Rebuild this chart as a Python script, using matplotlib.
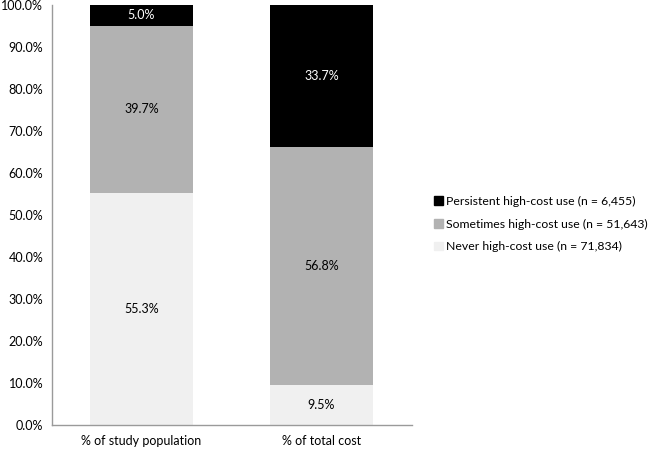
import matplotlib
matplotlib.use("Agg")
import matplotlib.pyplot as plt
from matplotlib.ticker import FuncFormatter
from matplotlib.patches import Patch

categories = ["% of study population", "% of total cost"]
never = [55.3, 9.5]
sometimes = [39.7, 56.8]
persistent = [5.0, 33.7]
series_names = ["Persistent high-cost use (n = 6,455)",
                "Sometimes high-cost use (n = 51,643)",
                "Never high-cost use (n = 71,834)"]
yticks = [0, 10, 20, 30, 40, 50, 60, 70, 80, 90, 100]

plt.rcParams['font.family'] = ['Lato', 'DejaVu Sans']

fig = plt.figure(figsize=(6.48, 4.49), dpi=100)
ax = fig.add_axes([51.5/648, 1-425/449, (411.5-51.5)/648, 420/449])

c_never, c_some, c_pers = "#f0f0f0", "#b2b2b2", "#000000"
x = list(range(len(categories)))
w = 0.57
ax.bar(x, never, w, color=c_never)
ax.bar(x, sometimes, w, bottom=never, color=c_some)
bot2 = [a + b for a, b in zip(never, sometimes)]
ax.bar(x, persistent, w, bottom=bot2, color=c_pers)

fs = 9
for i in x:
    ax.text(i, never[i] / 2, f"{never[i]:.1f}%", ha="center", va="center", fontsize=fs, color="black")
    ax.text(i, never[i] + sometimes[i] / 2, f"{sometimes[i]:.1f}%", ha="center", va="center", fontsize=fs, color="black")
    ax.text(i, bot2[i] + persistent[i] / 2, f"{persistent[i]:.1f}%", ha="center", va="center", fontsize=fs, color="white")

ax.set_xlim(-0.5, 1.5)
ax.set_ylim(0, 100)
ax.set_yticks(yticks)
ax.yaxis.set_major_formatter(FuncFormatter(lambda v, p: f"{v:.1f}%"))
ax.set_xticks(x)
ax.set_xticklabels(categories)
ax.tick_params(axis="both", labelsize=fs, length=0, colors="black")
ax.tick_params(axis="x", pad=7)
ax.tick_params(axis="y", pad=6)
for s in ["top", "right"]:
    ax.spines[s].set_visible(False)
for s in ["left", "bottom"]:
    ax.spines[s].set_color("#9a9a9a")
    ax.spines[s].set_linewidth(1)

handles = [Patch(color=c_pers), Patch(color=c_some), Patch(color=c_never)]
fig.legend(handles, series_names, loc="center left", bbox_to_anchor=(434/648, 1-224/449),
           frameon=False, fontsize=8.8, handlelength=0.7, handleheight=0.7,
           handletextpad=0.3, labelspacing=0.95, borderpad=0, borderaxespad=0)

fig.savefig("out.png", dpi=100)
